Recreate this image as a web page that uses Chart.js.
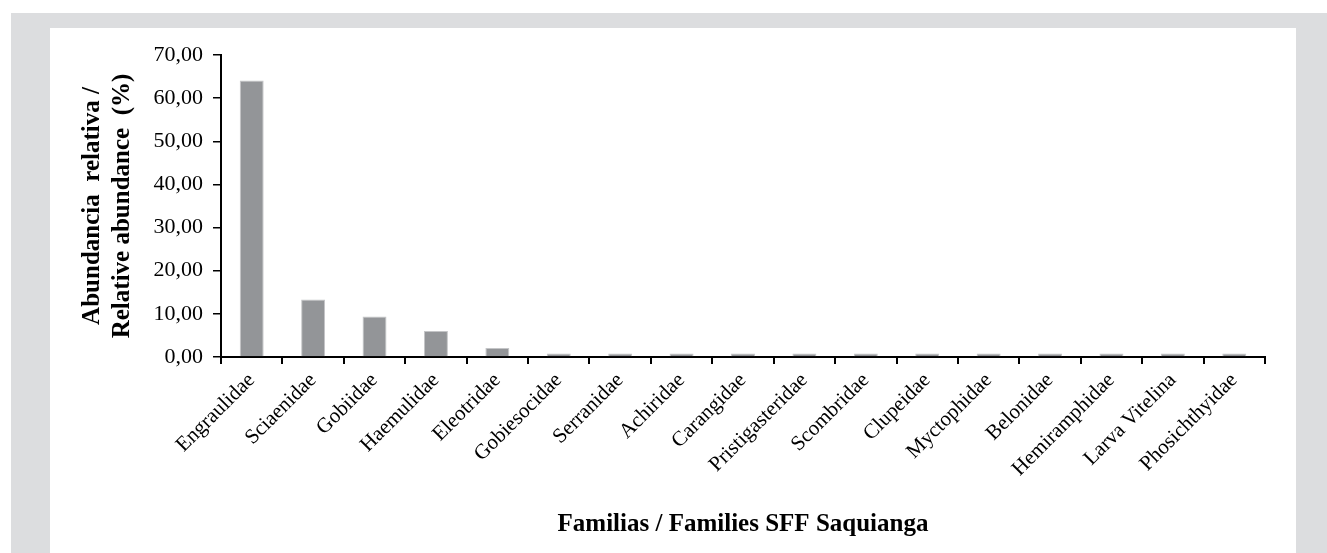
<!DOCTYPE html>
<html>
<head>
<meta charset="utf-8">
<script src="https://cdn.jsdelivr.net/npm/chart.js@4"></script>
<style>
  body { margin: 0; background: #fff; }
  #frame { position: absolute; left: 11px; top: 13px; width: 1316px; height: 540px; background: #dcdddf; }
  #panel { position: absolute; left: 50px; top: 28px; width: 1246px; height: 525px; background: #fff; }
  #wrap { position: absolute; left: 0; top: 0; width: 1327px; height: 553px; }
</style>
</head>
<body>
<div id="frame"></div>
<div id="panel"></div>
<div id="wrap"><canvas id="chart" width="1327" height="553"></canvas></div>
<script>
const families = ["Engraulidae", "Sciaenidae", "Gobiidae", "Haemulidae", "Eleotridae", "Gobiesocidae",
  "Serranidae", "Achiridae", "Carangidae", "Pristigasteridae", "Scombridae", "Clupeidae",
  "Myctophidae", "Belonidae", "Hemiramphidae", "Larva Vitelina", "Phosichthyidae"];
const abundance = [64.1, 13.3, 9.4, 6.0, 2.1, 0.8, 0.8, 0.8, 0.8, 0.8, 0.8, 0.8, 0.8, 0.8, 0.8, 0.8, 0.8];
const yTicks = [0, 10, 20, 30, 40, 50, 60, 70];

const serif = "'Liberation Serif', 'Times New Roman', serif";
const fmt = v => v.toFixed(2).replace(".", ",");

const ctx = document.getElementById("chart").getContext("2d");
new Chart(ctx, {
  type: "bar",
  data: {
    labels: families,
    datasets: [{
      data: abundance,
      backgroundColor: "#939598",
      borderColor: "#c4c5c7",
      borderWidth: 1,
      barPercentage: 0.39,
      categoryPercentage: 1
    }]
  },
  options: {
    responsive: false,
    animation: false,
    layout: { padding: { left: 0, top: 55, right: 62, bottom: 0 } },
    plugins: { legend: { display: false }, tooltip: { enabled: false } },
    scales: {
      x: {
        grid: { offset: true, drawOnChartArea: false, color: "#000", lineWidth: 2, tickLength: 7 },
        border: { color: "#000", width: 2 },
        ticks: {
          color: "#000", font: { family: serif, size: 21 },
          autoSkip: false, minRotation: 45, maxRotation: 45, padding: 4
        },
        title: {
          display: true, text: "Familias / Families SFF Saquianga", color: "#000",
          font: { family: serif, size: 25, weight: "bold", lineHeight: 1.2 },
          padding: { top: 0, bottom: 13 }
        },
        afterFit: scale => { scale.height = 196; }
      },
      y: {
        min: 0, max: 70,
        afterBuildTicks: scale => { scale.ticks = yTicks.map(v => ({ value: v })); },
        grid: { drawOnChartArea: false, color: "#000", lineWidth: 1.5, tickLength: 8 },
        border: { color: "#000", width: 2 },
        ticks: { color: "#000", font: { family: serif, size: 22 }, padding: 10, callback: v => fmt(v) },
        title: {
          display: true, text: ["Abundancia  relativa /", "Relative abundance  (%)"], color: "#000",
          font: { family: serif, size: 25, weight: "bold", lineHeight: 1.2 },
          padding: { top: 78, bottom: 0 }
        },
        afterFit: scale => { scale.width = 221; }
      }
    }
  }
});
</script>
</body>
</html>
